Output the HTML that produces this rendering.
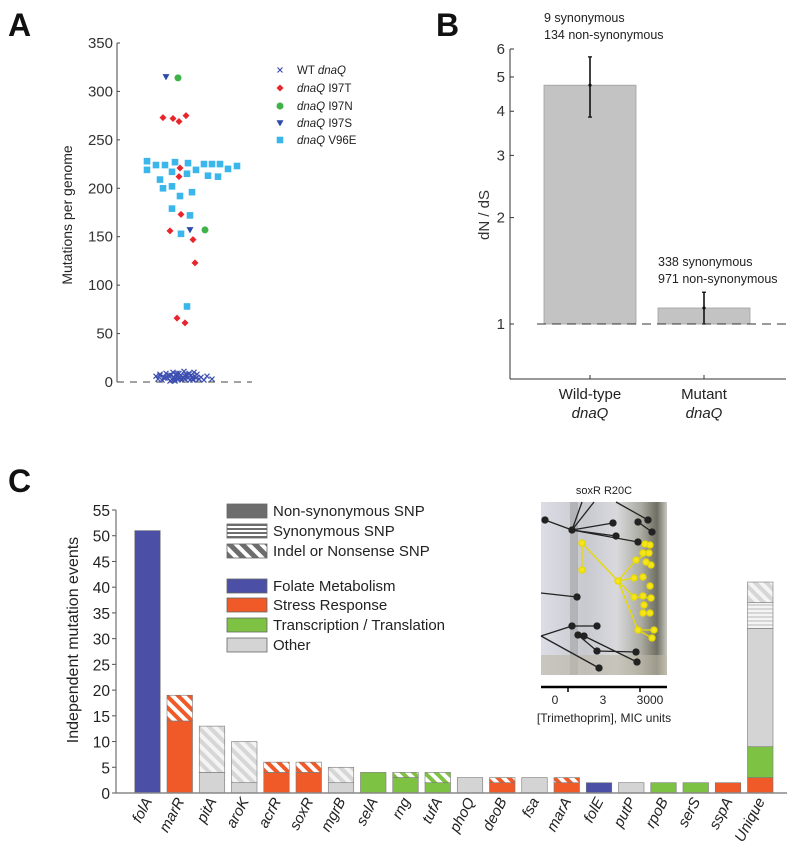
<!DOCTYPE html>
<html><head><meta charset="utf-8">
<style>
html,body{margin:0;padding:0;background:#fff;}
svg{display:block;font-family:"Liberation Sans",sans-serif;}
.narrow{font-family:"Liberation Sans Narrow","Liberation Sans",sans-serif;}
</style></head>
<body>
<svg id="fig" width="800" height="847" viewBox="0 0 800 847">
<defs>
  <pattern id="hatch-orange" patternUnits="userSpaceOnUse" width="8" height="8" patternTransform="rotate(-45)">
    <rect width="8" height="8" fill="#fff"/><rect width="4" height="8" fill="#f05a28"/></pattern>
  <pattern id="hatch-grey" patternUnits="userSpaceOnUse" width="8" height="8" patternTransform="rotate(-45)">
    <rect width="8" height="8" fill="#f4f4f4"/><rect width="4" height="8" fill="#d6d6d6"/></pattern>
  <pattern id="hatch-green" patternUnits="userSpaceOnUse" width="8" height="8" patternTransform="rotate(-45)">
    <rect width="8" height="8" fill="#fff"/><rect width="4" height="8" fill="#7dc242"/></pattern>
  <pattern id="hatch-blue" patternUnits="userSpaceOnUse" width="8" height="8" patternTransform="rotate(-45)">
    <rect width="8" height="8" fill="#fff"/><rect width="4" height="8" fill="#4b4fa6"/></pattern>
  <pattern id="hatch-dark" patternUnits="userSpaceOnUse" width="9" height="9" patternTransform="rotate(-45)">
    <rect width="9" height="9" fill="#fff"/><rect width="5" height="9" fill="#6d6d6d"/></pattern>
  <pattern id="hstripe-grey" patternUnits="userSpaceOnUse" width="6" height="4">
    <rect width="6" height="4" fill="#f4f4f4"/><rect width="6" height="2" fill="#d6d6d6"/></pattern>
  <pattern id="hstripe-dark" patternUnits="userSpaceOnUse" width="6" height="4">
    <rect width="6" height="4" fill="#fff"/><rect width="6" height="2" fill="#6d6d6d"/></pattern>
  <linearGradient id="photo-grad" x1="0" x2="1" y1="0" y2="0">
    <stop offset="0" stop-color="#dcdde6"/><stop offset="0.35" stop-color="#c8c9cf"/>
    <stop offset="0.6" stop-color="#d9d9dd"/><stop offset="0.8" stop-color="#a9a9a0"/>
    <stop offset="0.92" stop-color="#6e6e62"/><stop offset="1" stop-color="#c8c8c0"/></linearGradient>
</defs>

<text x="8" y="36" font-size="32" font-weight="bold" fill="#111">A</text>
<text x="436" y="36" font-size="32" font-weight="bold" fill="#111">B</text>
<text x="8" y="492" font-size="32" font-weight="bold" fill="#111">C</text>

<g id="panelA"></g>
<g id="panelB"></g>
<g id="panelC"></g>

<g id="inset">
  <text x="604" y="494" font-size="11" text-anchor="middle" class="narrow" fill="#222">soxR R20C</text>
  <rect x="541" y="502" width="126" height="173" fill="url(#photo-grad)"/>
  <rect x="570" y="502" width="8" height="173" fill="#9a9a9a" opacity="0.5"/>
  <rect x="541" y="655" width="126" height="20" fill="#bdb7a6" opacity="0.6"/>
  <g stroke="#222" stroke-width="1.3" fill="#222">
    <line x1="572" y1="530" x2="582" y2="502"/><line x1="572" y1="530" x2="594" y2="502"/><line x1="572" y1="530" x2="545" y2="520"/>
    <line x1="572" y1="530" x2="613" y2="523"/><line x1="572" y1="530" x2="638" y2="542"/><line x1="572" y1="530" x2="616" y2="536"/>
    <line x1="616" y1="502" x2="648" y2="520"/><line x1="638" y1="522" x2="652" y2="532"/>
    <line x1="541" y1="593" x2="577" y2="597"/><line x1="541" y1="636" x2="572" y2="626"/><line x1="572" y1="626" x2="597" y2="626"/>
    <line x1="541" y1="636" x2="599" y2="668"/><line x1="578" y1="635" x2="597" y2="651"/><line x1="597" y1="651" x2="636" y2="652"/>
    <line x1="584" y1="636" x2="637" y2="662"/>
    <circle cx="545" cy="520" r="3"/><circle cx="572" cy="530" r="3"/><circle cx="613" cy="523" r="3"/><circle cx="638" cy="542" r="3"/>
    <circle cx="616" cy="536" r="3"/><circle cx="648" cy="520" r="3"/><circle cx="652" cy="532" r="3"/><circle cx="638" cy="522" r="3"/>
    <circle cx="577" cy="597" r="3"/><circle cx="572" cy="626" r="3"/><circle cx="597" cy="626" r="3"/><circle cx="599" cy="668" r="3"/>
    <circle cx="578" cy="635" r="3"/><circle cx="584" cy="636" r="3"/><circle cx="597" cy="651" r="3"/><circle cx="636" cy="652" r="3"/><circle cx="637" cy="662" r="3"/>
  </g>
  <g stroke="#e8d900" stroke-width="1.3" fill="#f5e51c">
    <line x1="582" y1="543" x2="582" y2="570"/><line x1="582" y1="543" x2="618" y2="581"/>
    <line x1="618" y1="581" x2="636" y2="560"/><line x1="618" y1="581" x2="634" y2="578"/><line x1="618" y1="581" x2="634" y2="597"/>
    <line x1="618" y1="581" x2="638" y2="630"/><line x1="636" y1="560" x2="649" y2="553"/><line x1="634" y1="597" x2="651" y2="598"/>
    <line x1="638" y1="630" x2="654" y2="630"/><line x1="638" y1="630" x2="652" y2="638"/>
    <circle cx="582" cy="543" r="3"/><circle cx="582" cy="570" r="3"/><circle cx="618" cy="581" r="3"/>
    <circle cx="636" cy="560" r="3"/><circle cx="643" cy="553" r="3"/><circle cx="649" cy="553" r="3"/><circle cx="646" cy="562" r="3"/><circle cx="651" cy="565" r="3"/>
    <circle cx="634" cy="578" r="3"/><circle cx="643" cy="577" r="3"/><circle cx="650" cy="586" r="3"/><circle cx="634" cy="597" r="3"/><circle cx="643" cy="596" r="3"/>
    <circle cx="651" cy="598" r="3"/><circle cx="644" cy="605" r="3"/><circle cx="643" cy="613" r="3"/><circle cx="650" cy="613" r="3"/>
    <circle cx="638" cy="630" r="3"/><circle cx="654" cy="630" r="3"/><circle cx="652" cy="638" r="3"/><circle cx="645" cy="544" r="3"/><circle cx="650" cy="545" r="3"/>
  </g>
  <line x1="541" y1="687" x2="667" y2="687" stroke="#000" stroke-width="2.5"/>
  <line x1="568" y1="687" x2="568" y2="692" stroke="#000" stroke-width="1.5"/>
  <line x1="640" y1="687" x2="640" y2="692" stroke="#000" stroke-width="1.5"/>
  <g font-size="12" class="narrow" fill="#222" text-anchor="middle">
    <text x="555" y="704">0</text>
    <text x="603" y="704">3</text>
    <text x="650" y="704">3000</text>
    <text x="604" y="722">[Trimethoprim], MIC units</text>
  </g>
</g>

<script>
// ================= Panel A data =================
var aTicks = [0, 50, 100, 150, 200, 250, 300, 350];
var wtJitter = [156,158,160,162,164,166,168,170,171,172,173,174,175,176,177,178,179,180,181,182,183,184,185,186,187,188,189,190,191,192,193,194,195,196,197,199,201,204,165,169,173,177,181,185,189,193,167,175,183,191,199,207,212,160];
var wtValues = [6,3,8,2,5,9,4,1,7,3,10,5,2,8,6,3,9,4,7,2,5,11,3,8,6,4,9,2,7,5,3,10,6,4,8,3,5,2,4,7,2,9,3,6,8,2,5,1,4,7,3,6,3,7];
var i97tJitter = [163,173,179,186,180,179,181,170,193,195,177,185];
var i97tValues = [273,272,269,275,221,212,173,156,147,123,66,61];
var i97nJitter = [178,205];
var i97nValues = [314,157];
var i97sJitter = [166,190];
var i97sValues = [315,157];
var v96eJitter = [147,156,165,175,188,204,212,220,228,237,147,172,187,196,208,218,160,163,172,180,192,172,190,181,187];
var v96eValues = [228,224,224,227,226,225,225,225,220,223,219,217,215,219,213,212,209,200,202,192,196,179,172,153,78];
var aLegendLabels = ["WT ", "dnaQ", "dnaQ", "dnaQ", "dnaQ"];
var aLegendSuffix = ["dnaQ", " I97T", " I97N", " I97S", " V96E"];

// ================= Panel B data =================
var bCategories = ["Wild-type", "Mutant"];
var bValues = [4.74, 1.11];
var bErrLow = [3.85, 1.0];
var bErrHigh = [5.7, 1.23];
var bTicks = [1, 2, 3, 4, 5, 6];
var bSynLabels = ["9 synonymous", "338 synonymous"];
var bNonSynLabels = ["134 non-synonymous", "971 non-synonymous"];

// ================= Panel C data =================
var cGenes = ["folA","marR","pitA","aroK","acrR","soxR","mgrB","selA","rng","tufA","phoQ","deoB","fsa","marA","folE","putP","rpoB","serS","sspA","Unique"];
var cFolate     = [51,0,0,0,0,0,0,0,0,0,0,0,0,0,2,0,0,0,0,0];
var cStress     = [0,14,0,0,4,4,0,0,0,0,0,2,0,2,0,0,0,0,2,3];
var cTrans      = [0,0,0,0,0,0,0,4,3,2,0,0,0,0,0,0,2,2,0,6];
var cOther      = [0,0,4,2,0,0,2,0,0,0,3,0,3,0,0,2,0,0,0,23];
var cOtherSyn   = [0,0,0,0,0,0,0,0,0,0,0,0,0,0,0,0,0,0,0,5];
var cIndel      = [0,5,9,8,2,2,3,0,1,2,0,1,0,1,0,0,0,0,0,4];
var cIndelColor = ["blue","orange","grey","grey","orange","orange","grey","green","green","green","grey","orange","grey","orange","blue","grey","green","green","orange","grey"];
var cTicks = [0,5,10,15,20,25,30,35,40,45,50,55];

var NS = "http://www.w3.org/2000/svg";
function mk(tag, attrs, parent) {
  var e = document.createElementNS(NS, tag);
  for (var k in attrs) e.setAttribute(k, attrs[k]);
  parent.appendChild(e);
  return e;
}

(function(){
  var g = document.getElementById("panelA");
  function ay(v){ return 382 - v * (339/350); }
  function ax(j){ return j; }
  var axis = mk("line",{x1:117,y1:ay(350),x2:117,y2:ay(0),stroke:"#444","stroke-width":1},g);
  
  
  var base = mk("line",{x1:117,y1:ay(0),x2:252,y2:ay(0),stroke:"#444","stroke-width":1,"stroke-dasharray":"7,6"},g);
  
  
  aTicks.forEach(function(t){
    mk("line",{x1:117,y1:ay(t),x2:120,y2:ay(t),stroke:"#444"},g);
    var tx = mk("text",{x:113,y:ay(t)+5,"font-size":15,"text-anchor":"end",fill:"#333"},g);
    tx.textContent = t;
    
    
  });
  var yt = mk("text",{transform:"translate(72,215) rotate(-90)","font-size":14,"text-anchor":"middle",fill:"#222"},g);
  yt.textContent = "Mutations per genome";
  
  

  function cross(x,y,s,c,parent){
    mk("path",{d:"M"+(x-s)+","+(y-s)+"L"+(x+s)+","+(y+s)+"M"+(x-s)+","+(y+s)+"L"+(x+s)+","+(y-s),stroke:c,"stroke-width":1.2,fill:"none"},parent);
  }
  function diamond(x,y,s,c,parent){ return mk("path",{d:"M"+x+","+(y-s)+"L"+(x+s)+","+y+"L"+x+","+(y+s)+"L"+(x-s)+","+y+"Z",fill:c},parent); }
  function circ(x,y,s,c,parent){ return mk("circle",{cx:x,cy:y,r:s,fill:c},parent); }
  function tri(x,y,s,c,parent){ return mk("path",{d:"M"+(x-s)+","+(y-s*0.8)+"L"+(x+s)+","+(y-s*0.8)+"L"+x+","+(y+s)+"Z",fill:c},parent); }
  function sq(x,y,s,c,parent){ return mk("rect",{x:x-s,y:y-s,width:2*s,height:2*s,fill:c},parent); }

  var gw = mk("g",{},g);
  
  
  wtValues.forEach(function(v,i){ cross(ax(wtJitter[i]), ay(v), 2.5, "#3c4fb0", gw); });
  var gt = mk("g",{},g);
  
  
  i97tValues.forEach(function(v,i){ diamond(ax(i97tJitter[i]), ay(v), 3.5, "#e8252b", gt); });
  var gn = mk("g",{},g);
  
  
  i97nValues.forEach(function(v,i){ circ(ax(i97nJitter[i]), ay(v), 3.5, "#3fb24a", gn); });
  var gs = mk("g",{},g);
  
  
  i97sValues.forEach(function(v,i){ tri(ax(i97sJitter[i]), ay(v), 3.5, "#2c4aa8", gs); });
  var gv = mk("g",{},g);
  
  
  v96eValues.forEach(function(v,i){ sq(ax(v96eJitter[i]), ay(v), 3.3, "#3ab6ea", gv); });

  var leg = mk("g",{},g);
  
  
  var rowsY = [70,88,106,123,140];
  var fns = [function(y){cross(280,y,2.5,"#3c4fb0",leg);}, function(y){diamond(280,y,3.5,"#e8252b",leg);},
             function(y){circ(280,y,3.5,"#3fb24a",leg);}, function(y){tri(280,y,3.5,"#2c4aa8",leg);}, function(y){sq(280,y,3.3,"#3ab6ea",leg);}];
  rowsY.forEach(function(y,i){
    fns[i](y);
    var t = mk("text",{x:297,y:y+4,"font-size":11.5,fill:"#222"},leg);
    
    
    var s1 = mk("tspan",{},t); s1.textContent = aLegendLabels[i];
    if (i>0) s1.setAttribute("font-style","italic");
    var s2 = mk("tspan",{},t); s2.textContent = aLegendSuffix[i];
    if (i===0) s2.setAttribute("font-style","italic");
  });
})();

(function(){
  var g = document.getElementById("panelB");
  var k = 275/Math.log(6);
  function by(v){ return 324 - Math.log(v)*k; }
  var centers = [590, 704];
  function bx(i){ return centers[0] + i*(centers[1]-centers[0]); }
  var halfW = 46;
  var ya = mk("line",{x1:510,y1:by(6),x2:510,y2:379,stroke:"#333","stroke-width":1},g);
  
  
  var xa = mk("line",{x1:510,y1:379,x2:786,y2:379,stroke:"#333","stroke-width":1},g);
  
  
  bTicks.forEach(function(t){
    mk("line",{x1:510,y1:by(t),x2:514,y2:by(t),stroke:"#333"},g);
    var tx = mk("text",{x:505,y:by(t)+5,"font-size":15,"text-anchor":"end",fill:"#333"},g);
    tx.textContent = t;
    
    
  });
  var yt = mk("text",{transform:"translate(489,215) rotate(-90)","font-size":15,"text-anchor":"middle",fill:"#333"},g);
  yt.textContent = "dN / dS";
  
  
  bValues.forEach(function(v,i){
    var x = bx(i);
    var r = mk("rect",{x:x-halfW,y:by(v),width:2*halfW,height:by(1)-by(v),fill:"#c3c3c3",stroke:"#a0a0a0","stroke-width":0.8},g);
    
    
    var e = mk("line",{x1:x,y1:by(bErrHigh[i]),x2:x,y2:by(bErrLow[i]),stroke:"#111","stroke-width":1.6},g);
    
    
    mk("line",{x1:x-2,y1:by(bErrHigh[i]),x2:x+2,y2:by(bErrHigh[i]),stroke:"#111","stroke-width":1.3},g);
    mk("line",{x1:x-2,y1:by(bErrLow[i]),x2:x+2,y2:by(bErrLow[i]),stroke:"#111","stroke-width":1.3},g);
    mk("circle",{cx:x,cy:by(v),r:1.6,fill:"#111"},g);
    mk("line",{x1:x,y1:379,x2:x,y2:375,stroke:"#333"},g);
    var l1 = mk("text",{x:x,y:399,"font-size":15,"text-anchor":"middle",fill:"#222"},g);
    l1.textContent = bCategories[i];
    
    
    var l2 = mk("text",{x:x,y:418,"font-size":15,"text-anchor":"middle","font-style":"italic",fill:"#222"},g);
    l2.textContent = "dnaQ";
    
    
    var ax0 = x-halfW;
    var topY = (i===0) ? 22 : 266;
    var a1 = mk("text",{x:ax0,y:topY,"font-size":12.5,fill:"#222"},g);
    a1.textContent = bSynLabels[i];
    
    
    var a2 = mk("text",{x:ax0,y:topY+17,"font-size":12.5,fill:"#222"},g);
    a2.textContent = bNonSynLabels[i];
    
    
  });
  var dl = mk("line",{x1:537,y1:by(1),x2:786,y2:by(1),stroke:"#333","stroke-width":1,"stroke-dasharray":"9,6"},g);
  
  
})();

(function(){
  var g = document.getElementById("panelC");
  function cy(v){ return 793 - v*(283/55); }
  var x0 = 147.5, pitch = 32.25, bw = 25.5;
  function cx(i){ return x0 + i*pitch; }
  var solid = {blue:"#4b4fa6",orange:"#f05a28",green:"#7dc242",grey:"#d4d4d4"};
  var hatch = {blue:"url(#hatch-blue)",orange:"url(#hatch-orange)",green:"url(#hatch-green)",grey:"url(#hatch-grey)"};
  var ya = mk("line",{x1:116,y1:cy(55),x2:116,y2:cy(0),stroke:"#555"},g);
  
  
  cTicks.forEach(function(t){
    mk("line",{x1:112,y1:cy(t),x2:116,y2:cy(t),stroke:"#555"},g);
    var tx = mk("text",{x:110,y:cy(t)+6,"font-size":15.5,"text-anchor":"end",fill:"#222",class:"narrow"},g);
    tx.textContent = t;
    
    
  });
  var yt = mk("text",{transform:"translate(78,640) rotate(-90)","font-size":16,"text-anchor":"middle",fill:"#222"},g);
  yt.textContent = "Independent mutation events";
  
  

  cGenes.forEach(function(gene,i){
    var bg = mk("g",{},g);
    
    
    var segs = [[cStress[i],solid.orange],[cFolate[i],solid.blue],[cTrans[i],solid.green],[cOther[i],solid.grey],[cOtherSyn[i],"url(#hstripe-grey)"],[cIndel[i],hatch[cIndelColor[i]]]];
    var acc = 0;
    var xl = cx(i)-bw/2;
    segs.forEach(function(s){
      if (s[0] <= 0) return;
      mk("rect",{x:xl,y:cy(acc+s[0]),width:bw,height:cy(acc)-cy(acc+s[0]),fill:s[1],stroke:"#777","stroke-width":0.6},bg);
      acc += s[0];
    });
    var lt = mk("text",{transform:"translate("+(cx(i)+5)+",801) rotate(-62)","font-size":15,"text-anchor":"end","font-style":"italic",fill:"#222",class:"narrow"},g);
    lt.textContent = gene;
    
    
  });
  var xa = mk("line",{x1:116,y1:cy(0),x2:787,y2:cy(0),stroke:"#888","stroke-width":1.5},g);
  
  

  var leg = mk("g",{},g);
  
  
  var legFills = ["#6d6d6d","url(#hstripe-dark)","url(#hatch-dark)","#4b4fa6","#f05a28","#7dc242","#d4d4d4"];
  var legNames = ["Non-synonymous SNP","Synonymous SNP","Indel or Nonsense SNP","Folate Metabolism","Stress Response","Transcription / Translation","Other"];
  var legY = [504,524,544,579,598,618,638];
  legNames.forEach(function(n,i){
    var r = mk("rect",{x:227,y:legY[i],width:40,height:14,fill:legFills[i],stroke:"#666","stroke-width":0.8},leg);
    
    
    var t = mk("text",{x:273,y:legY[i]+12,"font-size":15,fill:"#222",class:"narrow"},leg);
    t.textContent = n;
    
    
  });
})();
</script>
</svg>
</body></html>
